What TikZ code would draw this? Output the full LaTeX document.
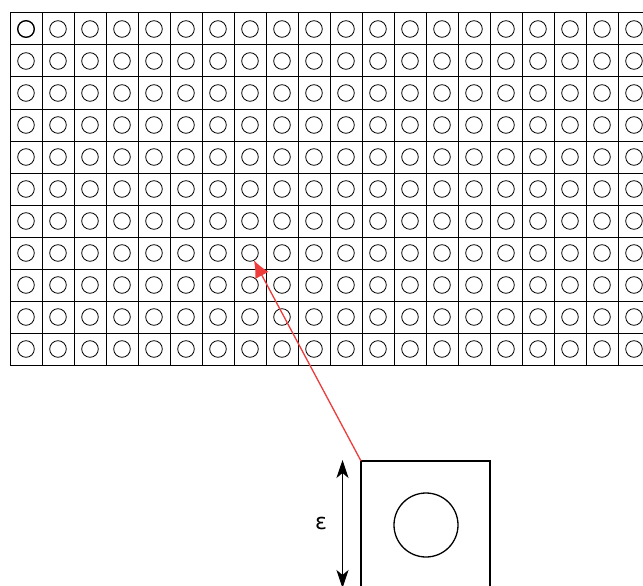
\documentclass[tikz,border=0pt]{standalone}
\usepackage{fontspec}
\setmainfont{DejaVu Sans}
\usetikzlibrary{arrows.meta}
\definecolor{linkred}{HTML}{EE3B3B}
\tikzset{
  cellbox/.style={draw=black, line width=1pt, minimum size=32pt, inner sep=0pt, outer sep=0pt},
  cellcirc/.style={draw=black, line width=0.8pt, circle, minimum size=16.6pt, inner sep=0pt, outer sep=0pt},
  bigbox/.style={draw=black, line width=1.3pt, minimum width=129pt, minimum height=160pt, inner sep=0pt, outer sep=0pt, anchor=north west},
  bigcirc/.style={draw=black, line width=1.3pt, circle, minimum size=64pt, inner sep=0pt, outer sep=0pt},
  link/.style={draw=linkred, line width=1.3pt, -{Latex[length=17pt,width=15pt,fill=linkred]}},
  span/.style={draw=black, line width=1pt, {Stealth[length=18pt,width=12pt,inset=5pt]}-{Stealth[length=18pt,width=12pt,inset=5pt]}},
  lbl/.style={font=\fontsize{22}{26}\selectfont, inner sep=0pt}
}
\begin{document}
\begin{tikzpicture}[x=1pt,y=-1pt]
\useasboundingbox (0,0) rectangle (643,586);
\clip (0,0) rectangle (643,586);
\foreach \r in {0,...,10}{
  \foreach \c in {0,...,19}{
    \node[cellbox] (b-\r-\c) at ({26+32*\c},{29+32*\r}) {};
    \node[cellcirc] (c-\r-\c) at ({26+32*\c},{29+32*\r}) {};
  }
}
\node[cellcirc, line width=1.2pt] at (c-0-0) {};
\node[bigbox] (cell) at (361,461) {};
\node[bigcirc] (atom) at (426,525) {};
\coordinate (top) at (342.5,460);
\coordinate (bot) at (342.5,588);
\draw[span] (top) -- (bot);
\node[lbl] (eps) at (321,523) {ε};
\draw[link] (cell.north west) -- (c-7-7);
\end{tikzpicture}
\end{document}
